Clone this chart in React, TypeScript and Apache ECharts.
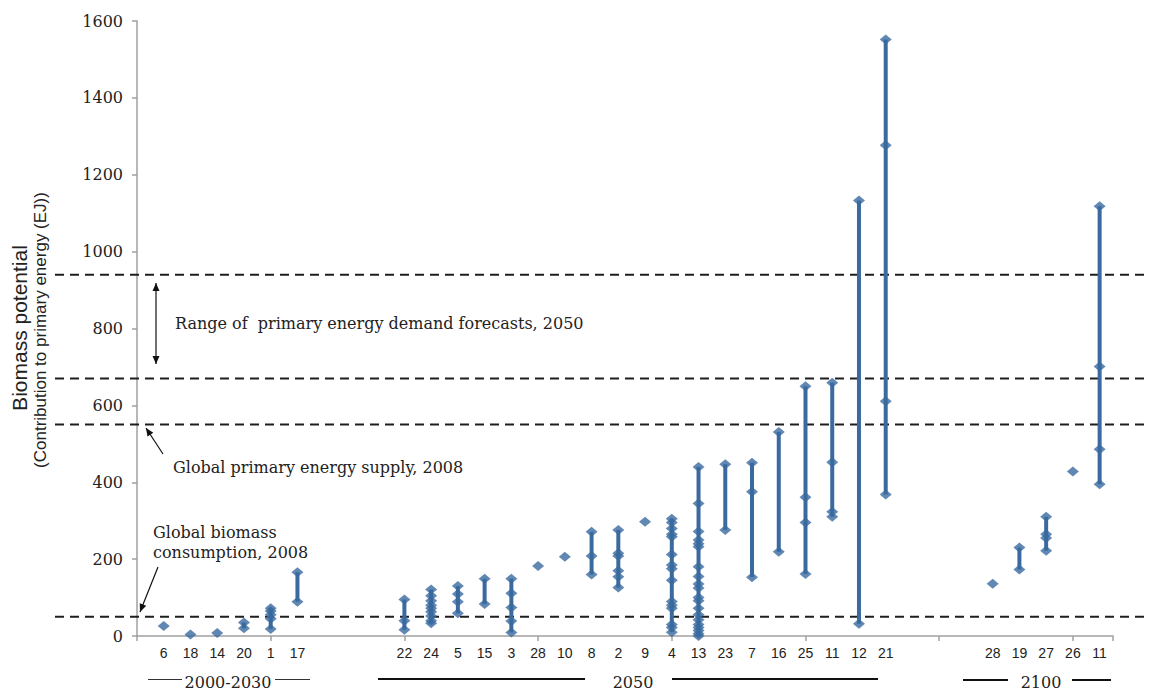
import React, { useEffect, useRef } from 'react';
import * as echarts from 'echarts';

// x categories (empty strings are gaps between the period groups)
const categories = [
  '6', '18', '14', '20', '1', '17',
  '', '', '',
  '22', '24', '5', '15', '3', '28', '10', '8', '2', '9', '4', '13', '23', '7', '16', '25', '11', '12', '21',
  '', '', '',
  '28', '19', '27', '26', '11',
];

// biomass potential estimates (EJ) per study, same order as categories
const potentials: number[][] = [
  [26],
  [4],
  [8],
  [20, 35],
  [18, 45, 55, 65, 72],
  [89, 166],
  [], [], [],
  [16, 40, 95],
  [33, 40, 52, 63, 72, 80, 92, 105, 121],
  [59, 89, 109, 130],
  [83, 149],
  [9, 39, 74, 111, 149],
  [182],
  [206],
  [160, 208, 271],
  [126, 154, 170, 208, 215, 276],
  [297],
  [10, 22, 30, 72, 80, 90, 145, 175, 185, 212, 258, 265, 280, 295, 305],
  [0, 6, 14, 22, 30, 42, 55, 72, 92, 100, 125, 135, 155, 180, 232, 240, 250, 272, 345, 440],
  [276, 447],
  [153, 375, 451],
  [219, 531],
  [161, 295, 361, 650],
  [310, 323, 452, 659],
  [32, 1133],
  [368, 611, 1277, 1552],
  [], [], [],
  [136],
  [173, 230],
  [222, 255, 265, 310],
  [428],
  [395, 486, 701, 1118],
];

// reference levels (EJ): biomass consumption 2008, primary energy supply 2008, demand forecast range 2050
const referenceLevels = [50, 550, 670, 940];

const yMin = 0;
const yMax = 1600;
const yInterval = 200;

const BLUE = '#3a6a9f';
const SERIF = '"DejaVu Serif", serif';
const SANS = '"Liberation Sans", Arial, sans-serif';

export default function App() {
  const ref = useRef<HTMLDivElement>(null);

  useEffect(() => {
    if (!ref.current) return;
    const chart = echarts.init(ref.current, undefined, { renderer: 'svg' });

    const rangeData: number[][] = [];
    const pointData: number[][] = [];
    potentials.forEach((vals, i) => {
      if (!vals.length) return;
      vals.forEach((v) => pointData.push([i + 1, v]));
      if (vals.length > 1) rangeData.push([i + 1, Math.min(...vals), Math.max(...vals)]);
    });

    const xMax = categories.length + 0.5;

    const option: any = {
      animation: false,
      grid: { left: 137, right: 36, top: 21, bottom: 55, containLabel: false },
      xAxis: [
        {
          type: 'value',
          min: 0,
          max: xMax,
          interval: 5,
          position: 'bottom',
          axisLine: { show: true, lineStyle: { color: '#a0a0a0', width: 1.5 } },
          axisTick: { show: true, length: 5, inside: false, lineStyle: { color: '#a0a0a0', width: 1.5 } },
          axisLabel: { show: false },
          splitLine: { show: false },
        },
        {
          type: 'value',
          min: 0,
          max: xMax,
          interval: 1,
          position: 'bottom',
          axisLine: { show: false },
          axisTick: { show: false },
          splitLine: { show: false },
          axisLabel: {
            show: true,
            margin: 10,
            color: '#222',
            fontFamily: SANS,
            fontSize: 14,
            formatter: (v: number) =>
              Number.isInteger(v) && v >= 1 && v <= categories.length ? categories[v - 1] : '',
          },
        },
      ],
      yAxis: {
        type: 'value',
        min: yMin,
        max: yMax,
        interval: yInterval,
        axisLine: { show: true, lineStyle: { color: '#a0a0a0', width: 1.5 } },
        axisTick: { show: true, length: 5, lineStyle: { color: '#a0a0a0', width: 1.5 } },
        splitLine: { show: false },
        axisLabel: {
          margin: 14,
          color: '#222',
          fontFamily: SERIF,
          fontSize: 16,
          formatter: (v: number) => String(v),
        },
      },
      series: [
        {
          type: 'custom',
          xAxisIndex: 0,
          data: rangeData,
          encode: { x: 0, y: [1, 2] },
          renderItem: (params: any, api: any) => {
            const x = api.value(0);
            const p1 = api.coord([x, api.value(1)]);
            const p2 = api.coord([x, api.value(2)]);
            return {
              type: 'line',
              shape: { x1: p1[0], y1: p1[1], x2: p2[0], y2: p2[1] },
              style: { stroke: BLUE, lineWidth: 4 },
            };
          },
          z: 2,
        },
        {
          type: 'scatter',
          xAxisIndex: 0,
          data: pointData,
          symbol: 'diamond',
          symbolSize: [12, 10],
          itemStyle: { color: BLUE },
          z: 3,
        },
      ],
    };

    chart.setOption(option);

    const refYs = referenceLevels.map((v) => chart.convertToPixel({ yAxisIndex: 0 }, v) as number);

    const dashed = refYs.map((y) => ({
      type: 'line',
      shape: { x1: 55, y1: y, x2: 1149, y2: y },
      style: { stroke: '#1e1e1e', lineWidth: 2, lineDash: [9, 6] },
      z: 1,
    }));

    const head = (tx: number, ty: number, fx: number, fy: number) => {
      const ang = Math.atan2(ty - fy, tx - fx);
      const L = 8;
      const W = 3.5;
      const bx = tx - L * Math.cos(ang);
      const by = ty - L * Math.sin(ang);
      const nx = -Math.sin(ang);
      const ny = Math.cos(ang);
      return {
        type: 'polygon',
        shape: { points: [[tx, ty], [bx + nx * W, by + ny * W], [bx - nx * W, by - ny * W]] },
        style: { fill: '#111' },
        z: 5,
      };
    };

    const arrow = (fx: number, fy: number, tx: number, ty: number, both = false) => {
      const els: any[] = [
        {
          type: 'line',
          shape: { x1: fx, y1: fy, x2: tx, y2: ty },
          style: { stroke: '#111', lineWidth: 1.2 },
          z: 5,
        },
        head(tx, ty, fx, fy),
      ];
      if (both) els.push(head(fx, fy, tx, ty));
      return els;
    };

    const txt = (x: number, y: number, text: string, opts: any = {}) => ({
      type: 'text',
      x,
      y,
      z: 6,
      style: {
        text,
        fill: '#222',
        font: `16px ${SERIF}`,
        textAlign: 'left',
        textVerticalAlign: 'middle',
        ...opts,
      },
    });

    const hline = (x1: number, x2: number, y: number, w: number, c = '#111') => ({
      type: 'line',
      shape: { x1, y1: y, x2, y2: y },
      style: { stroke: c, lineWidth: w },
      z: 5,
    });

    const graphic: any[] = [
      ...dashed,
      ...arrow(156, 364, 156, 283, true),
      txt(175, 323, 'Range of  primary energy demand forecasts, 2050'),
      ...arrow(163, 454, 146, 428),
      txt(173, 467, 'Global primary energy supply, 2008'),
      txt(153, 532, 'Global biomass'),
      txt(153, 552, 'consumption, 2008'),
      ...arrow(158, 567, 140, 612),
      // period brackets
      hline(148, 182, 679.5, 1, '#333'),
      txt(228, 682, '2000-2030', { textAlign: 'center' }),
      hline(275, 310, 679.5, 1, '#333'),
      hline(378, 585, 679, 2),
      txt(633, 682, '2050', { textAlign: 'center' }),
      hline(672, 878, 679, 2),
      hline(963, 1008, 680, 2),
      txt(1041, 682, '2100', { textAlign: 'center' }),
      hline(1072, 1111, 680, 2),
      // y-axis title
      {
        type: 'text',
        x: 19,
        y: 328,
        rotation: Math.PI / 2,
        z: 6,
        style: {
          text: 'Biomass potential',
          fill: '#222',
          font: `21px ${SANS}`,
          textAlign: 'center',
          textVerticalAlign: 'middle',
        },
      },
      {
        type: 'text',
        x: 40,
        y: 330,
        rotation: Math.PI / 2,
        z: 6,
        style: {
          text: '(Contribution to primary energy (EJ))',
          fill: '#222',
          font: `17px ${SANS}`,
          textAlign: 'center',
          textVerticalAlign: 'middle',
        },
      },
    ];

    chart.setOption({ graphic });

    return () => chart.dispose();
  }, []);

  return (
    <div
      ref={ref}
      style={{ position: 'fixed', left: 0, top: 0, width: 1149, height: 691, background: '#fff' }}
    />
  );
}
